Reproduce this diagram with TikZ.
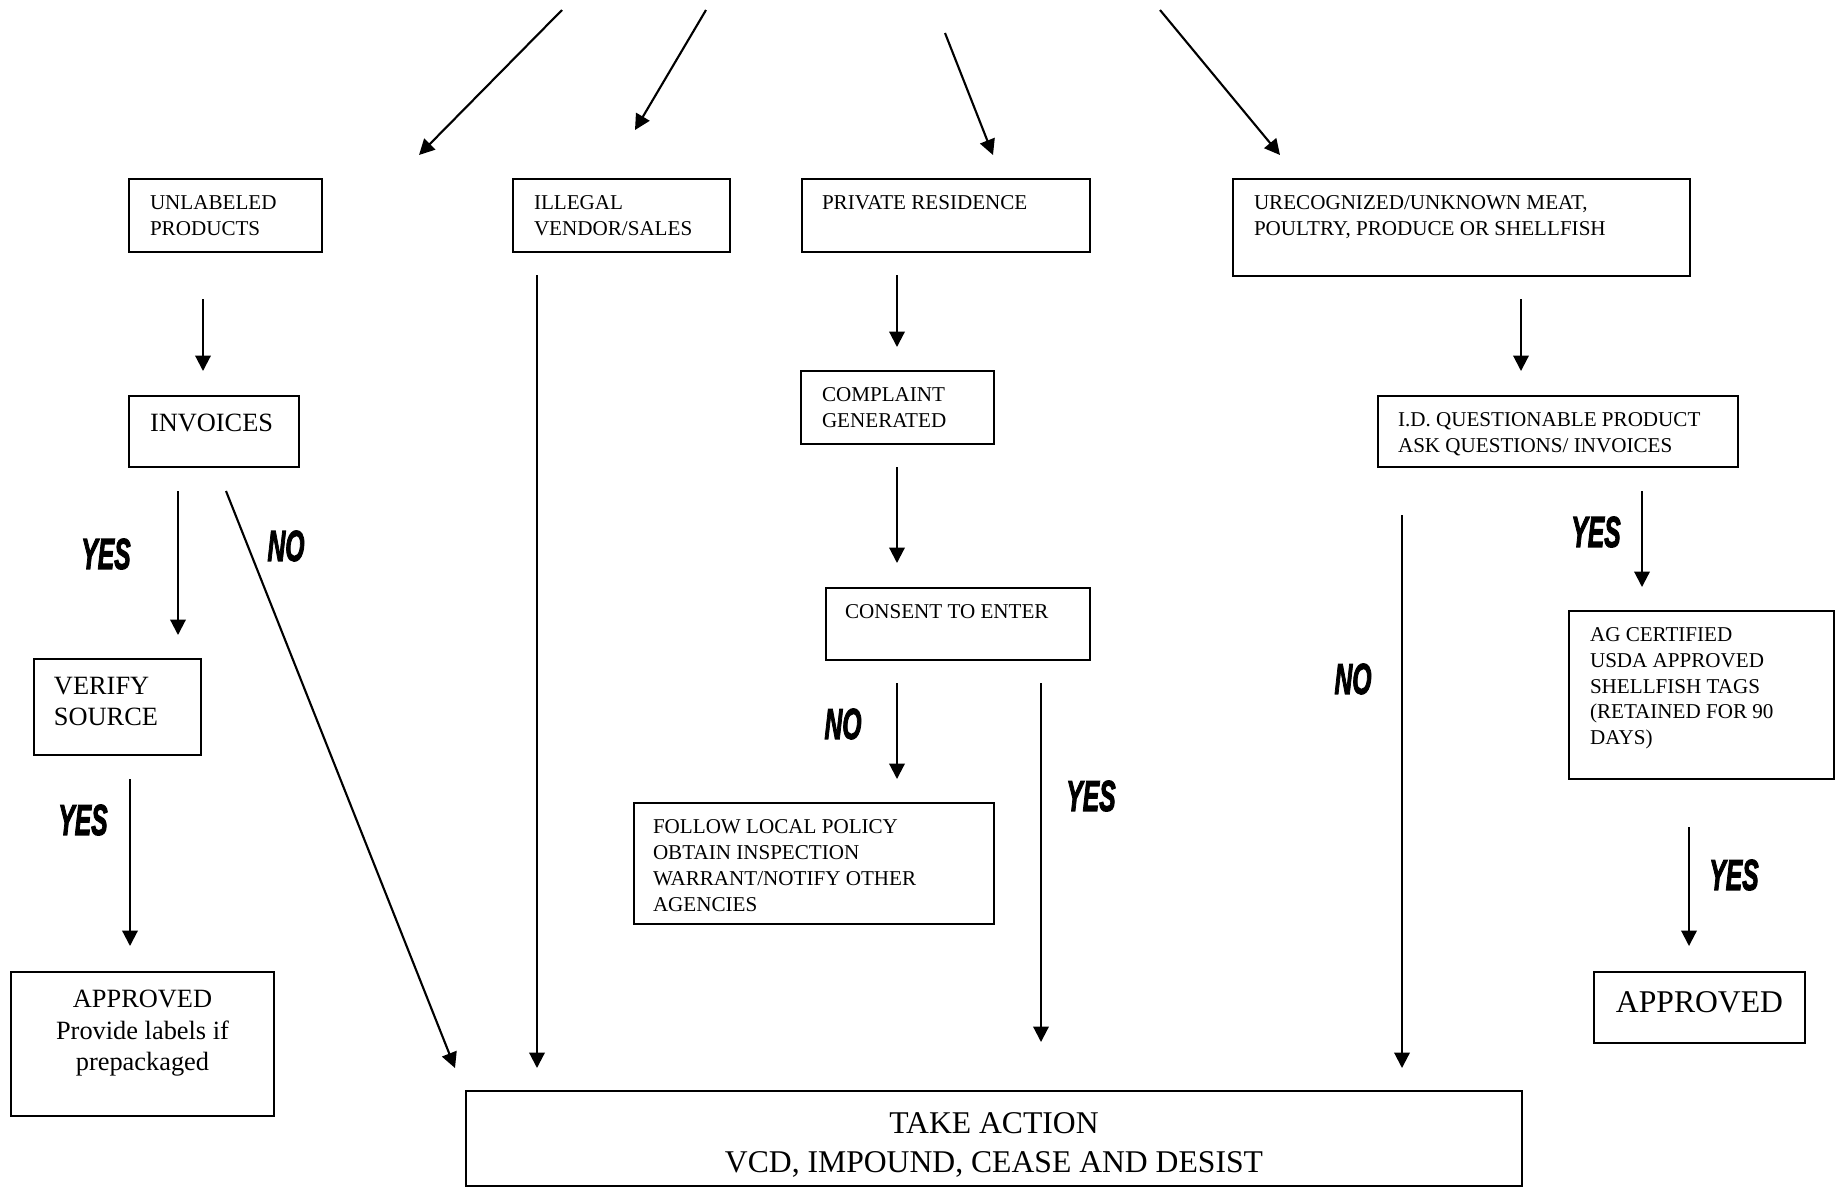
\documentclass[tikz,border=0pt]{standalone}
\usepackage{fontspec}
\setmainfont{Liberation Serif}
\newfontfamily\answerfont[BoldItalicFeatures={FakeBold=3}]{Liberation Sans}
\usepackage{graphicx}
\usetikzlibrary{arrows.meta}
\usetikzlibrary{calc}
\usetikzlibrary{fit}

\newcommand\answer[1]{\scalebox{.57}[1]{\answerfont\bfseries\itshape #1}}

\begin{document}
\begin{tikzpicture}[x=0.01cm, y=-0.01cm, line width=0.6pt]

		\tikzstyle{box}    = [draw, inner sep=0pt, fit={#1}]
		\tikzstyle{small}  = [inner sep=0pt, anchor=north west, align=left, font=\fontsize{6}{7.3}\selectfont]
		\tikzstyle{big}    = [inner sep=0pt, anchor=north, align=center, font=\fontsize{7.5}{9}\selectfont]
		\tikzstyle{reply}  = [inner sep=0pt, font=\fontsize{12.3}{12.3}\selectfont]
		\tikzstyle{arrow}  = [-{Triangle[width=4.4pt,length=4.4pt]}]
		\useasboundingbox (0,0) rectangle (1836,1187);

		%%Boxes
		\node [box={(129,179) (322,252)}](unl) {};
		\node [box={(513,179) (730,252)}](ill) {};
		\node [box={(802,179) (1090,252)}](prv) {};
		\node [box={(1233,179) (1690,276)}](unk) {};
		\node [box={(129,396) (299,467)}](inv) {};
		\node [box={(34,659) (201,755)}](ver) {};
		\node [box={(11,972) (274,1116)}](apl) {};
		\node [box={(801,371) (994,444)}](cmp) {};
		\node [box={(826,588) (1090,660)}](cns) {};
		\node [box={(634,803) (994,924)}](fol) {};
		\node [box={(1378,396) (1738,467)}](idq) {};
		\node [box={(1569,611) (1834,779)}](agc) {};
		\node [box={(1594,972) (1805,1043)}](apr) {};
		\node [box={(466,1091) (1522,1186)}](act) {};

		%%Texts
		\node [small](unl-t) at ($(unl.north west) + (21, 17)$) {UNLABELED\\PRODUCTS};
		\node [small](ill-t) at ($(ill.north west) + (21, 17)$) {ILLEGAL\\VENDOR/SALES};
		\node [small](prv-t) at ($(prv.north west) + (20, 17)$) {PRIVATE RESIDENCE};
		\node [small](unk-t) at ($(unk.north west) + (21, 17)$) {URECOGNIZED/UNKNOWN MEAT,\\POULTRY, PRODUCE OR SHELLFISH};
		\node [small, font=\fontsize{7.5}{9}\selectfont](inv-t) at ($(inv.north west) + (21, 18)$) {INVOICES};
		\node [small, font=\fontsize{7.5}{9}\selectfont](ver-t) at ($(ver.north west) + (20, 18)$) {VERIFY\\SOURCE};
		\node [big](apl-t) at ($(apl.north) + (0, 18)$) {APPROVED\\Provide labels if\\prepackaged};
		\node [small](cmp-t) at ($(cmp.north west) + (21, 17)$) {COMPLAINT\\GENERATED};
		\node [small](cns-t) at ($(cns.north west) + (19, 17)$) {CONSENT TO ENTER};
		\node [small](fol-t) at ($(fol.north west) + (19, 17)$) {FOLLOW LOCAL POLICY\\OBTAIN INSPECTION\\WARRANT/NOTIFY OTHER\\AGENCIES};
		\node [small](idq-t) at ($(idq.north west) + (20, 17)$) {I.D. QUESTIONABLE PRODUCT\\ASK QUESTIONS/ INVOICES};
		\node [small](agc-t) at ($(agc.north west) + (21, 17)$) {AG CERTIFIED\\USDA APPROVED\\SHELLFISH TAGS\\(RETAINED FOR 90\\DAYS)};
		\node [big, anchor=center, font=\fontsize{9}{11}\selectfont](apr-t) at ($(apr.center) + (0, -5)$) {APPROVED};
		\node [big, font=\fontsize{9}{11}\selectfont](act-t) at ($(act.north) + (0, 22)$) {TAKE ACTION\\VCD, IMPOUND, CEASE AND DESIST};

		%%Answers
		\node [reply](yes1) at (106,554) {\answer{YES}};
		\node [reply](no1) at (286,546) {\answer{NO}};
		\node [reply](yes2) at (83,820) {\answer{YES}};
		\node [reply](no2) at (843,724) {\answer{NO}};
		\node [reply](yes3) at (1091,796) {\answer{YES}};
		\node [reply](no3) at (1353,679) {\answer{NO}};
		\node [reply](yes4) at (1596,532) {\answer{YES}};
		\node [reply](yes5) at (1734,875) {\answer{YES}};

		%%Arrow ends
		\coordinate (t1) at (562,10);   \coordinate (h1) at (419,155);
		\coordinate (t2) at (706,10);   \coordinate (h2) at (635,130);
		\coordinate (t3) at (945,33);   \coordinate (h3) at (993,155);
		\coordinate (t4) at (1160,10);  \coordinate (h4) at (1280,155);
		\coordinate (t5) at (203,299);  \coordinate (h5) at (203,371);
		\coordinate (t6) at (178,491);  \coordinate (h6) at (178,635);
		\coordinate (t7) at (226,491);  \coordinate (h7) at (455,1068);
		\coordinate (t8) at (130,779);  \coordinate (h8) at (130,946);
		\coordinate (t9) at (537,275);  \coordinate (h9) at (537,1068);
		\coordinate (t10) at (897,275); \coordinate (h10) at (897,347);
		\coordinate (t11) at (897,467); \coordinate (h11) at (897,563);
		\coordinate (t12) at (897,683); \coordinate (h12) at (897,779);
		\coordinate (t13) at (1041,683); \coordinate (h13) at (1041,1042);
		\coordinate (t14) at (1521,299); \coordinate (h14) at (1521,371);
		\coordinate (t15) at (1402,515); \coordinate (h15) at (1402,1068);
		\coordinate (t16) at (1642,491); \coordinate (h16) at (1642,587);
		\coordinate (t17) at (1689,827); \coordinate (h17) at (1689,946);

		%%Arrows
		\draw [arrow] (t1)--(h1);
		\draw [arrow] (t2)--(h2);
		\draw [arrow] (t3)--(h3);
		\draw [arrow] (t4)--(h4);
		\draw [arrow] (t5)--(h5);
		\draw [arrow] (t6)--(h6);
		\draw [arrow] (t7)--(h7);
		\draw [arrow] (t8)--(h8);
		\draw [arrow] (t9)--(h9);
		\draw [arrow] (t10)--(h10);
		\draw [arrow] (t11)--(h11);
		\draw [arrow] (t12)--(h12);
		\draw [arrow] (t13)--(h13);
		\draw [arrow] (t14)--(h14);
		\draw [arrow] (t15)--(h15);
		\draw [arrow] (t16)--(h16);
		\draw [arrow] (t17)--(h17);
	\end{tikzpicture}
\end{document}
